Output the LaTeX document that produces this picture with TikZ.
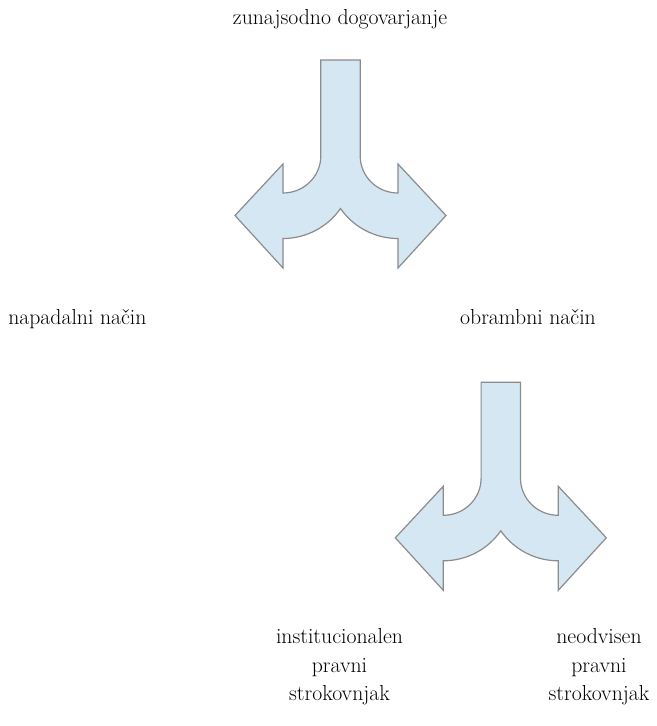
\documentclass[tikz,border=0pt]{standalone}
\usepackage{fontspec}
\setmainfont{Latin Modern Roman}
\definecolor{arrowfill}{RGB}{214,231,244}
\definecolor{arrowline}{RGB}{140,140,140}
\tikzset{
  splitarrow/.style={fill=arrowfill,draw=arrowline,line width=0.9pt,line join=miter},
  lbl/.style={inner sep=0pt,outer sep=0pt,font=\fontsize{16.3}{21}\selectfont,text=black}
}
\newcommand{\splitarrowpath}{%
  (-19.7,0) -- (-19.7,96) .. controls (-19.7,116.4) and (-36.6,133) .. (-57.5,133)
  -- (-57.5,104) -- (-105.5,155.5) -- (-57.5,208) -- (-57.5,178.5)
  .. controls (-34.5,178.5) and (-13.1,167.3) .. (0,148.5)
  .. controls (13.1,167.3) and (34.5,178.5) .. (57.5,178.5)
  -- (57.5,208) -- (105.5,155.5) -- (57.5,104) -- (57.5,133)
  .. controls (36.6,133) and (19.7,116.4) .. (19.7,96) -- (19.7,0) -- cycle}
\begin{document}
\begin{tikzpicture}[x=0.75pt,y=-0.75pt]
\useasboundingbox (0,0) rectangle (657,726);
\fill[white] (0,0) rectangle (657,726);
\begin{scope}[shift={(340.5,60)}]
  \draw[splitarrow] \splitarrowpath;
  \coordinate (a1) at (0,0);
\end{scope}
\begin{scope}[shift={(500.8,382.3)}]
  \draw[splitarrow] \splitarrowpath;
  \coordinate (a2) at (0,0);
\end{scope}
\node[lbl,anchor=base] (top) at (340,24) {zunajsodno dogovarjanje};
\node[lbl,anchor=base west] (napad) at (8.3,324.3) {napadalni način};
\node[lbl,anchor=base] (obramb) at (528,324.3) {obrambni način};
\node[lbl,anchor=base] (inst1) at (339.5,643.3) {institucionalen};
\node[lbl,anchor=base] (inst2) at (339.5,672.3) {pravni};
\node[lbl,anchor=base] (inst3) at (339.5,700) {strokovnjak};
\node[lbl,anchor=base] (neod1) at (599,643.3) {neodvisen};
\node[lbl,anchor=base] (neod2) at (599,672.3) {pravni};
\node[lbl,anchor=base] (neod3) at (599,700) {strokovnjak};
\end{tikzpicture}
\end{document}
